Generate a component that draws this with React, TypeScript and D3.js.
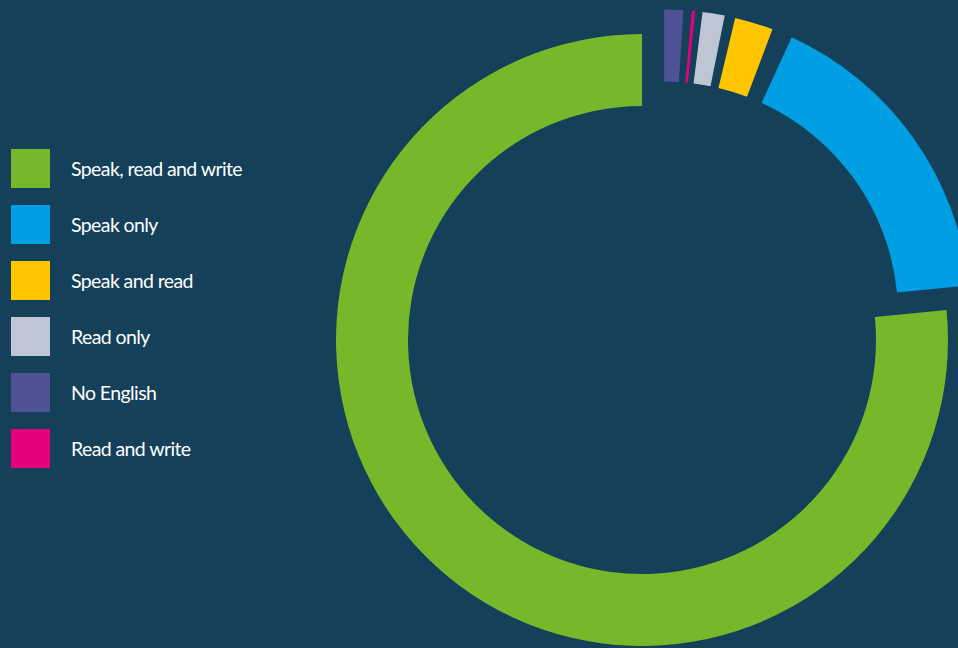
import React, { useEffect } from "react";
import * as d3 from "d3";

// ---- data (legend order) ----
const CATEGORIES = [
  "Speak, read and write",
  "Speak only",
  "Speak and read",
  "Read only",
  "No English",
  "Read and write",
];
const SHARES = [76.6, 16.6, 2.03, 1.17, 1.0, 0.17]; // percent
const COLORS = ["#76b82a", "#009fe3", "#ffc600", "#bec6d3", "#4f5396", "#e6007e"];

// clockwise drawing order from 12 o'clock
const RING_ORDER = ["No English", "Read and write", "Read only", "Speak and read", "Speak only", "Speak, read and write"];
// angular separation (degrees) drawn after each slice in ring order
const SEPARATION_DEG = [1.6, 1.4, 2.0, 3.9, 0, 0];
const EXPLODED = ["No English", "Read and write", "Read only", "Speak and read", "Speak only"];

const W = 958;
const H = 648;
const BG = "#14405a";
const CX = 642;
const CY = 340;
const R_OUT = 306;
const R_IN = 234;
const EXPLODE = 33;

export default function App() {
  useEffect(() => {
    document.body.style.margin = "0";
    document.body.style.background = BG;
  }, []);

  // build pie input with invisible separators
  const items: { name: string | null; value: number }[] = [];
  RING_ORDER.forEach((name, i) => {
    const idx = CATEGORIES.indexOf(name);
    items.push({ name, value: SHARES[idx] });
    if (SEPARATION_DEG[i] > 0) items.push({ name: null, value: (SEPARATION_DEG[i] / 360) * 100 });
  });
  const pie = d3.pie<{ name: string | null; value: number }>().sort(null).value((d) => d.value);
  const arcs = pie(items);
  const arc = d3.arc<any>().innerRadius(R_IN).outerRadius(R_OUT);

  const exploded = arcs.filter((a) => a.data.name && EXPLODED.includes(a.data.name));
  const gStart = d3.min(exploded, (a) => a.startAngle) as number;
  const gEnd = d3.max(exploded, (a) => a.endAngle) as number;
  const mid = (gStart + gEnd) / 2;
  const dx = EXPLODE * Math.sin(mid);
  const dy = -EXPLODE * Math.cos(mid);

  const legendY = d3.scaleBand<string>().domain(CATEGORIES).range([140.5, 476.5]).paddingInner(0);

  return (
    <svg width={W} height={H} style={{ display: "block" }} viewBox={`0 0 ${W} ${H}`}>
      <rect x={0} y={0} width={W} height={H} fill={BG} />
      <g transform={`translate(${CX},${CY})`}>
        {arcs.map((a, i) => {
          if (!a.data.name) return null;
          const idx = CATEGORIES.indexOf(a.data.name);
          const isEx = EXPLODED.includes(a.data.name);
          return (
            <path
              key={i}
              d={arc(a) as string}
              fill={COLORS[idx]}
              transform={isEx ? `translate(${dx},${dy})` : undefined}
            />
          );
        })}
      </g>
      <g fontFamily="Lato, 'Open Sans', sans-serif" fontSize={19.5} fill="#ffffff" letterSpacing={-0.6}>
        {CATEGORIES.map((c, i) => {
          const y = (legendY(c) as number) + legendY.bandwidth() / 2;
          return (
            <g key={c}>
              <rect x={11} y={y - 19.5} width={39} height={39} fill={COLORS[i]} />
              <text x={71} y={y + 7.3}>{c}</text>
            </g>
          );
        })}
      </g>
    </svg>
  );
}
